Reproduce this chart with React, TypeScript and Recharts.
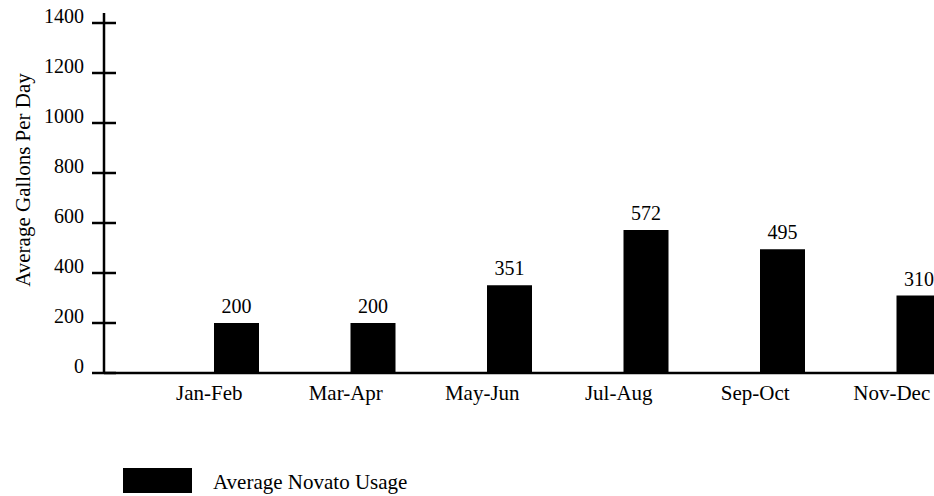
import { BarChart, Bar, XAxis, YAxis, Legend, LabelList } from 'recharts';

const PERIODS = ['Jan-Feb', 'Mar-Apr', 'May-Jun', 'Jul-Aug', 'Sep-Oct', 'Nov-Dec'];
const NOVATO_USAGE = [200, 200, 351, 572, 495, 310];
const Y_TICKS = [0, 200, 400, 600, 800, 1000, 1200, 1400];

const FONT = "'Liberation Serif', 'Times New Roman', serif";
const textStyle = { fontFamily: FONT, fontSize: 20 };

const data = PERIODS.map((p, i) => ({ period: p, usage: NOVATO_USAGE[i] }));

// y ticks cross the axis line, label sits to the left
function YTick({ x, y, payload }: any) {
  return (
    <g>
      <line x1={x - 12} x2={x + 12} y1={y} y2={y} stroke="#000" strokeWidth={2.5} />
      <text x={x - 20} y={y} textAnchor="end" fill="#000" style={textStyle}>
        {payload.value}
      </text>
    </g>
  );
}

function YLabel({ viewBox }: any) {
  const cx = viewBox.x + 23;
  const cy = viewBox.y + viewBox.height / 2 - 13;
  return (
    <text
      x={cx}
      y={cy}
      transform={`rotate(-90 ${cx} ${cy})`}
      textAnchor="middle"
      dominantBaseline="central"
      fill="#000"
      style={{ fontFamily: FONT, fontSize: 21 }}
    >
      Average Gallons Per Day
    </text>
  );
}

function LegendBox() {
  return (
    <div style={{ display: 'flex', alignItems: 'flex-start', height: 25, fontFamily: FONT }}>
      <div style={{ width: 69, height: 25, background: '#000' }} />
      <span style={{ marginLeft: 21, fontSize: 21, lineHeight: '25px', paddingTop: 2, color: '#000' }}>
        Average Novato Usage
      </span>
    </div>
  );
}

export default function App() {
  return (
    <div
      style={{
        position: 'absolute',
        left: 0,
        top: 0,
        width: 934,
        height: 496,
        overflow: 'hidden',
        background: '#fff',
        fontFamily: FONT,
      }}
    >
      <BarChart width={1051} height={496} data={data} margin={{ top: 13, right: 0, left: 0, bottom: 3 }}>
        <XAxis
          dataKey="period"
          height={95}
          padding={{ left: 64, right: 64 }}
          axisLine={{ stroke: '#000', strokeWidth: 2.5 }}
          tickLine={false}
          tickSize={6}
          tickMargin={6}
          tick={{ dx: -27, fill: '#000', style: { fontFamily: FONT, fontSize: 21 } }}
        />
        <YAxis
          width={104}
          domain={[0, 1440]}
          ticks={Y_TICKS}
          interval={0}
          axisLine={{ stroke: '#000', strokeWidth: 2.5 }}
          tickLine={false}
          tickSize={0}
          tickMargin={0}
          tick={<YTick />}
          label={<YLabel />}
        />
        <Legend
          verticalAlign="bottom"
          align="left"
          content={<LegendBox />}
          wrapperStyle={{ left: 123, bottom: 3, width: 400 }}
        />
        <Bar dataKey="usage" name="Average Novato Usage" fill="#000" barSize={45} isAnimationActive={false}>
          <LabelList dataKey="usage" position="top" offset={10} fill="#000" style={textStyle} />
        </Bar>
      </BarChart>
    </div>
  );
}
